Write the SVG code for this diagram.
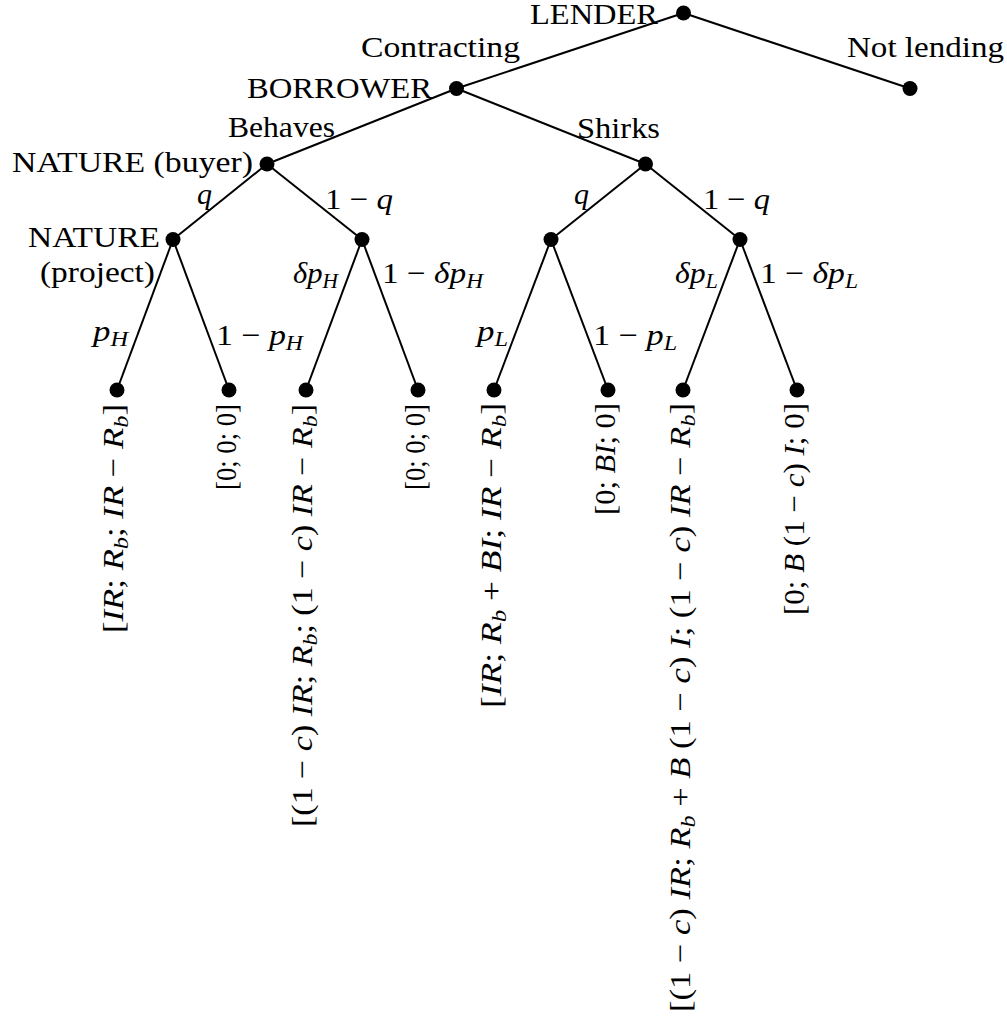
<svg xmlns="http://www.w3.org/2000/svg" width="1007" height="1018" viewBox="0 0 1007 1018">
<style>
.t{font-family:"Liberation Serif",serif;font-size:30px;fill:#000}
.i{font-style:italic}
.sb{font-style:italic;font-size:21px}
.e{stroke:#000;stroke-width:2;fill:none}
.d{fill:#000}
</style>
<rect width="1007" height="1018" fill="#fff"/>
<g id="connectors">
<line class="e" x1="683.5" y1="13" x2="456.5" y2="88.5"/>
<line class="e" x1="683.5" y1="13" x2="910" y2="88.5"/>
<line class="e" x1="456.5" y1="88.5" x2="267" y2="164"/>
<line class="e" x1="456.5" y1="88.5" x2="645.5" y2="164"/>
<line class="e" x1="267" y1="164" x2="173" y2="239.5"/>
<line class="e" x1="267" y1="164" x2="362" y2="239.5"/>
<line class="e" x1="645.5" y1="164" x2="551" y2="239.5"/>
<line class="e" x1="645.5" y1="164" x2="740" y2="239.5"/>
<line class="e" x1="173" y1="239.5" x2="117" y2="390"/>
<line class="e" x1="173" y1="239.5" x2="229" y2="390"/>
<line class="e" x1="362" y1="239.5" x2="306" y2="390"/>
<line class="e" x1="362" y1="239.5" x2="418" y2="390"/>
<line class="e" x1="551" y1="239.5" x2="494" y2="390"/>
<line class="e" x1="551" y1="239.5" x2="608" y2="390"/>
<line class="e" x1="740" y1="239.5" x2="683" y2="390"/>
<line class="e" x1="740" y1="239.5" x2="797" y2="390"/>
<text class="t" x="361" y="57" textLength="159" lengthAdjust="spacingAndGlyphs">Contracting</text>
<text class="t" x="847" y="57" textLength="157" lengthAdjust="spacingAndGlyphs">Not lending</text>
<text class="t" x="228" y="137" textLength="107" lengthAdjust="spacingAndGlyphs">Behaves</text>
<text class="t" x="577" y="138" textLength="83" lengthAdjust="spacingAndGlyphs">Shirks</text>
<text class="t i" x="197" y="204">q</text>
<text class="t" x="325" y="209" textLength="68" lengthAdjust="spacingAndGlyphs">1 − <tspan class="i">q</tspan></text>
<text class="t i" x="574" y="204">q</text>
<text class="t" x="703" y="209" textLength="67" lengthAdjust="spacingAndGlyphs">1 − <tspan class="i">q</tspan></text>
<text class="t" x="293" y="283" textLength="45" lengthAdjust="spacingAndGlyphs"><tspan class="i">δp</tspan><tspan class="sb" dy="5">H</tspan></text>
<text class="t" x="382" y="283" textLength="101" lengthAdjust="spacingAndGlyphs">1 − <tspan class="i">δp</tspan><tspan class="sb" dy="5">H</tspan></text>
<text class="t" x="675" y="283" textLength="43" lengthAdjust="spacingAndGlyphs"><tspan class="i">δp</tspan><tspan class="sb" dy="5">L</tspan></text>
<text class="t" x="760" y="283" textLength="98" lengthAdjust="spacingAndGlyphs">1 − <tspan class="i">δp</tspan><tspan class="sb" dy="5">L</tspan></text>
<text class="t" x="93" y="341" textLength="35" lengthAdjust="spacingAndGlyphs"><tspan class="i">p</tspan><tspan class="sb" dy="5">H</tspan></text>
<text class="t" x="216" y="345" textLength="87" lengthAdjust="spacingAndGlyphs">1 − <tspan class="i">p</tspan><tspan class="sb" dy="5">H</tspan></text>
<text class="t" x="477" y="341" textLength="31" lengthAdjust="spacingAndGlyphs"><tspan class="i">p</tspan><tspan class="sb" dy="5">L</tspan></text>
<text class="t" x="593" y="345" textLength="84" lengthAdjust="spacingAndGlyphs">1 − <tspan class="i">p</tspan><tspan class="sb" dy="5">L</tspan></text>
</g>
<g id="lender">
<circle class="d" cx="683.5" cy="13" r="7.5"/>
<text class="t" x="530" y="24" textLength="128" lengthAdjust="spacingAndGlyphs">LENDER</text>
</g>
<g id="not-lending">
<circle class="d" cx="910" cy="88.5" r="7.5"/>
</g>
<g id="borrower">
<circle class="d" cx="456.5" cy="88.5" r="7.5"/>
<text class="t" x="247" y="98" textLength="185" lengthAdjust="spacingAndGlyphs">BORROWER</text>
</g>
<g id="nature-buyer">
<circle class="d" cx="267" cy="164" r="7.5"/>
<text class="t" x="12" y="172" textLength="241" lengthAdjust="spacingAndGlyphs">NATURE (buyer)</text>
</g>
<g id="nature-shirk">
<circle class="d" cx="645.5" cy="164" r="7.5"/>
</g>
<g id="nature-project">
<circle class="d" cx="173" cy="239.5" r="7.5"/>
<text class="t" x="28" y="247" textLength="132" lengthAdjust="spacingAndGlyphs">NATURE</text>
<text class="t" x="40" y="282" textLength="115" lengthAdjust="spacingAndGlyphs">(project)</text>
</g>
<g id="node-b2"><circle class="d" cx="362" cy="239.5" r="7.5"/></g>
<g id="node-s1"><circle class="d" cx="551" cy="239.5" r="7.5"/></g>
<g id="node-s2"><circle class="d" cx="740" cy="239.5" r="7.5"/></g>
<g id="leaf1">
<circle class="d" cx="117" cy="390" r="7.5"/>
<text class="t" transform="translate(123,633) rotate(-90)" textLength="229" lengthAdjust="spacingAndGlyphs">[<tspan class="i">IR</tspan>; <tspan class="i">R</tspan><tspan class="sb" dy="5">b</tspan><tspan dy="-5">; </tspan><tspan class="i">IR</tspan> − <tspan class="i">R</tspan><tspan class="sb" dy="5">b</tspan><tspan dy="-5">]</tspan></text>
</g>
<g id="leaf2">
<circle class="d" cx="229" cy="390" r="7.5"/>
<text class="t" transform="translate(236,490) rotate(-90)" textLength="86" lengthAdjust="spacingAndGlyphs">[0; 0; 0]</text>
</g>
<g id="leaf3">
<circle class="d" cx="306" cy="390" r="7.5"/>
<text class="t" transform="translate(312,827) rotate(-90)" textLength="423" lengthAdjust="spacingAndGlyphs">[(1 − <tspan class="i">c</tspan>) <tspan class="i">IR</tspan>; <tspan class="i">R</tspan><tspan class="sb" dy="5">b</tspan><tspan dy="-5">; (1 − </tspan><tspan class="i">c</tspan>) <tspan class="i">IR</tspan> − <tspan class="i">R</tspan><tspan class="sb" dy="5">b</tspan><tspan dy="-5">]</tspan></text>
</g>
<g id="leaf4">
<circle class="d" cx="418" cy="390" r="7.5"/>
<text class="t" transform="translate(425,490) rotate(-90)" textLength="86" lengthAdjust="spacingAndGlyphs">[0; 0; 0]</text>
</g>
<g id="leaf5">
<circle class="d" cx="494" cy="390" r="7.5"/>
<text class="t" transform="translate(501,708) rotate(-90)" textLength="305" lengthAdjust="spacingAndGlyphs">[<tspan class="i">IR</tspan>; <tspan class="i">R</tspan><tspan class="sb" dy="5">b</tspan><tspan dy="-5"> + </tspan><tspan class="i">BI</tspan>; <tspan class="i">IR</tspan> − <tspan class="i">R</tspan><tspan class="sb" dy="5">b</tspan><tspan dy="-5">]</tspan></text>
</g>
<g id="leaf6">
<circle class="d" cx="608" cy="390" r="7.5"/>
<text class="t" transform="translate(615,515) rotate(-90)" textLength="112" lengthAdjust="spacingAndGlyphs">[0; <tspan class="i">BI</tspan>; 0]</text>
</g>
<g id="leaf7">
<circle class="d" cx="683" cy="390" r="7.5"/>
<text class="t" transform="translate(690,1012) rotate(-90)" textLength="609" lengthAdjust="spacingAndGlyphs">[(1 − <tspan class="i">c</tspan>) <tspan class="i">IR</tspan>; <tspan class="i">R</tspan><tspan class="sb" dy="5">b</tspan><tspan dy="-5"> + </tspan><tspan class="i">B</tspan> (1 − <tspan class="i">c</tspan>) <tspan class="i">I</tspan>; (1 − <tspan class="i">c</tspan>) <tspan class="i">IR</tspan> − <tspan class="i">R</tspan><tspan class="sb" dy="5">b</tspan><tspan dy="-5">]</tspan></text>
</g>
<g id="leaf8">
<circle class="d" cx="797" cy="390" r="7.5"/>
<text class="t" transform="translate(804,615) rotate(-90)" textLength="212" lengthAdjust="spacingAndGlyphs">[0; <tspan class="i">B</tspan> (1 − <tspan class="i">c</tspan>) <tspan class="i">I</tspan>; 0]</text>
</g>
</svg>
